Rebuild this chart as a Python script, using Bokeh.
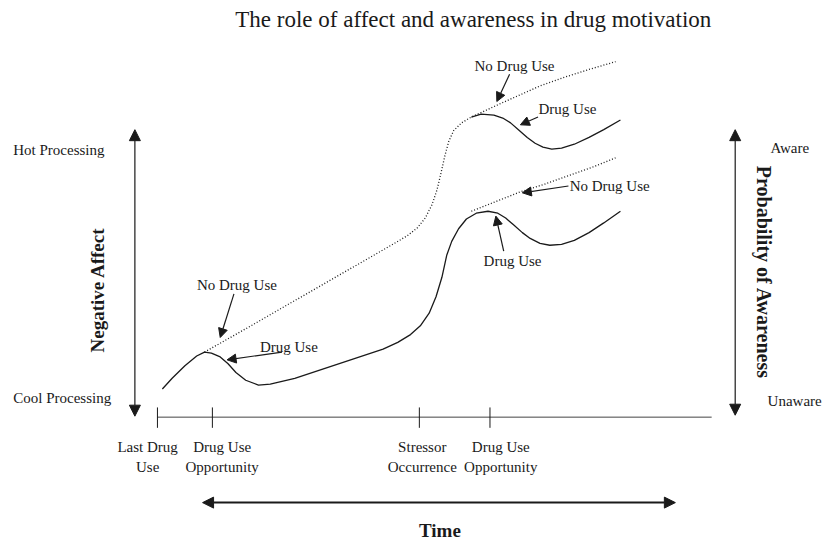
import numpy as np
from bokeh.plotting import figure
from bokeh.models import Range1d, Arrow, NormalHead
from bokeh.core.properties import value
from bokeh.embed import file_html
from bokeh.resources import INLINE

# ---------------- data (in picture units) -------------
title = "The role of affect and awareness in drug motivation"

# affect curve, path with drug use at the first opportunity (solid)
use_x = [165, 175, 188, 200, 208, 215, 224, 232, 240, 250, 263, 275, 300, 330, 360,
         390, 405, 418, 428, 437, 444, 450, 455, 460, 467, 475, 485, 497, 507, 515,
         523, 532, 540, 550, 560, 572, 585, 600, 615, 632]
use_y = [400, 389, 376, 366, 362, 363, 367, 374, 383, 391, 396, 395, 389, 379, 369,
         359, 352, 344, 335, 322, 305, 285, 262, 248, 235, 225, 219, 217, 219, 224,
         231, 239, 245, 250, 252, 251, 247, 239, 229, 217]

# affect curve, no drug use at the first opportunity (dotted)
nouse_x = [208, 250, 300, 350, 400, 415, 425, 433, 440, 445, 449, 453, 457, 462,
           470, 480, 495, 510, 530, 550, 575, 600, 627]
nouse_y = [362, 338, 309, 280, 251, 242, 234, 224, 210, 195, 178, 160, 145, 134,
           126, 120, 113, 106, 97, 88, 79, 71, 63]

# branch: drug use at the second opportunity after the no-use path (solid)
use2_x = [480, 490, 503, 512, 520, 528, 537, 545, 553, 562, 572, 585, 600, 615, 632]
use2_y = [120, 117, 118, 121, 126, 133, 141, 147, 151, 153, 152, 148, 141, 133, 123]

# branch: no drug use at the second opportunity after the use path (dotted)
nouse2_x = [480, 500, 530, 555, 580, 605, 627]
nouse2_y = [217, 209, 197, 189, 180, 171, 162]

# time-axis events
tick_x = [160, 216, 427, 499]
tick_line1 = ["Last Drug", "Drug Use", "Stressor", "Drug Use"]
tick_line2 = ["Use", "Opportunity", "Occurrence", "Opportunity"]
tick_label_x = [150, 226, 430, 510]

# curve annotations: label, label position, arrow start, arrow end
ann_text = ["No Drug Use", "Drug Use", "No Drug Use", "Drug Use", "No Drug Use", "Drug Use"]
ann_x = [241, 294, 524, 578, 621, 522]
ann_y = [293, 357, 67, 112, 191, 268]
arr_x0 = [238, 287, 519, 548, 579, 513]
arr_y0 = [302, 362, 76, 120, 191, 258]
arr_x1 = [224, 231, 506, 530, 532, 505]
arr_y1 = [347, 370, 104, 128, 198, 222]

left_labels = ["Hot Processing", "Cool Processing"]
left_label_y = [154, 409]
right_labels = ["Aware", "Unaware"]
right_label_y = [152, 412]

# ---------------- figure ----------------
FONT = value("Liberation Serif")
INK = "#1a1a1a"

p = figure(width=822, height=540, x_range=Range1d(0, 838), y_range=Range1d(556, 0),
           output_backend="svg", toolbar_location=None, min_border=0,
           x_axis_type=None, y_axis_type=None)
p.grid.visible = False
p.outline_line_color = None
p.background_fill_color = "white"
p.border_fill_color = "white"

# curves
p.line(use_x, use_y, line_color=INK, line_width=1.3)
p.line(nouse_x, nouse_y, line_color=INK, line_width=1.3, line_dash="1 2")
p.line(use2_x, use2_y, line_color=INK, line_width=1.3)
p.line(nouse2_x, nouse2_y, line_color=INK, line_width=1.3, line_dash="1 2")

# time axis with event ticks
p.segment(x0=[tick_x[0]], y0=[429], x1=[725], y1=[429], line_color="#444", line_width=1)
p.segment(x0=tick_x, y0=[419] * 4, x1=tick_x, y1=[440] * 4, line_color=INK, line_width=1)
p.text(x=tick_label_x, y=[460] * 4, text=tick_line1, text_font=FONT, text_font_size="15px",
       text_align="center", text_baseline="middle", text_color=INK)
p.text(x=tick_label_x, y=[480] * 4, text=tick_line2, text_font=FONT, text_font_size="15px",
       text_align="center", text_baseline="middle", text_color=INK)

# big arrows
def dbl_arrow(x0, y0, x1, y1, w):
    p.add_layout(Arrow(start=NormalHead(size=11, fill_color=INK, line_color=INK),
                       end=NormalHead(size=11, fill_color=INK, line_color=INK),
                       x_start=x0, y_start=y0, x_end=x1, y_end=y1,
                       line_color=INK, line_width=w))

dbl_arrow(137, 428, 137, 133, 1.2)
dbl_arrow(749, 427, 749, 133, 1.2)
dbl_arrow(206, 517, 688, 517, 2)

# annotation arrows
for i in range(len(ann_text)):
    p.add_layout(Arrow(end=NormalHead(size=9, fill_color=INK, line_color=INK),
                       x_start=arr_x0[i], y_start=arr_y0[i], x_end=arr_x1[i], y_end=arr_y1[i],
                       line_color=INK, line_width=1.2))
p.text(x=ann_x, y=ann_y, text=ann_text, text_font=FONT, text_font_size="15px",
       text_align="center", text_baseline="middle", text_color=INK)

# side labels
p.text(x=[13] * 2, y=left_label_y, text=left_labels, text_font=FONT, text_font_size="15px",
       text_align="left", text_baseline="middle", text_color=INK)
p.text(x=[785, 782], y=right_label_y, text=right_labels, text_font=FONT, text_font_size="15px",
       text_align="left", text_baseline="middle", text_color=INK)

p.text(x=[99], y=[298], text=["Negative Affect"], angle=np.pi / 2, text_font=FONT,
       text_font_size="19px", text_font_style="bold", text_align="center",
       text_baseline="middle", text_color=INK)
p.text(x=[778], y=[280], text=["Probability of Awareness"], angle=-np.pi / 2, text_font=FONT,
       text_font_size="20px", text_font_style="bold", text_align="center",
       text_baseline="middle", text_color=INK)
p.text(x=[448], y=[546], text=["Time"], text_font=FONT, text_font_size="19px",
       text_font_style="bold", text_align="center", text_baseline="middle", text_color=INK)

# title
p.text(x=[482], y=[20], text=[title], text_font=FONT, text_font_size="23px",
       text_align="center", text_baseline="middle", text_color=INK)

open("out.html", "w").write(file_html(p, INLINE))
